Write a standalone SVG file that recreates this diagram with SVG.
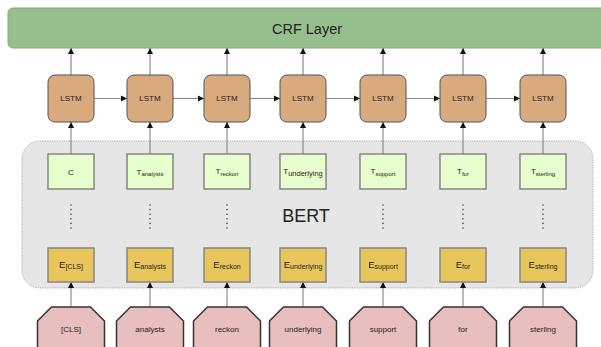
<svg xmlns="http://www.w3.org/2000/svg" width="601" height="347" viewBox="0 0 601 347">
<style>
text{font-family:"Liberation Sans",Arial,sans-serif;fill:#222;text-anchor:middle}
.lstm{fill:#d8aa7e;stroke:#555;stroke-width:1}
.t{fill:#e6ffcc;stroke:#858585;stroke-width:1.5}
.e{fill:#e9c65c;stroke:#858585;stroke-width:1.5}
.tok{fill:#e8bebe;stroke:#333;stroke-width:1.5}
.c{stroke:#8c8c8c;stroke-width:1.2;fill:none;marker-end:url(#ah)}
.dots{stroke:#444;stroke-width:1.6;stroke-linecap:round;stroke-dasharray:0 4.6}
.s{font-size:8px}
.sub{font-size:6px}
.es{font-size:9.5px}
.esub{font-size:7px}
</style>
<defs>
<marker id="ah" markerUnits="userSpaceOnUse" markerWidth="7" markerHeight="7" refX="6" refY="3.5" orient="auto">
<path d="M0,0.5 L6,3.5 L0,6.5 z" fill="#111"/>
</marker>
</defs>

<g id="crf">
<rect x="8" y="8" width="600" height="40" rx="5" fill="#97bf8d" stroke="#82a87a" stroke-width="1"/>
<text x="307" y="34" font-size="14.5">CRF Layer</text>
</g>

<g id="bert">
<rect x="22" y="141" width="571" height="147" rx="18" fill="#e6e6e6" stroke="#a8a8a8" stroke-width="1" stroke-dasharray="1.2 1.2"/>
<text x="306" y="222" font-size="18">BERT</text>
</g>

<g id="connectors">
<line class="c" x1="71" y1="75" x2="71" y2="48"/>
<line class="c" x1="150" y1="75" x2="150" y2="48"/>
<line class="c" x1="227" y1="75" x2="227" y2="48"/>
<line class="c" x1="303" y1="75" x2="303" y2="48"/>
<line class="c" x1="383" y1="75" x2="383" y2="48"/>
<line class="c" x1="463" y1="75" x2="463" y2="48"/>
<line class="c" x1="543" y1="75" x2="543" y2="48"/>

<line class="c" x1="94" y1="98.5" x2="127" y2="98.5"/>
<line class="c" x1="173" y1="98.5" x2="204" y2="98.5"/>
<line class="c" x1="250" y1="98.5" x2="280" y2="98.5"/>
<line class="c" x1="326" y1="98.5" x2="360" y2="98.5"/>
<line class="c" x1="406" y1="98.5" x2="440" y2="98.5"/>
<line class="c" x1="486" y1="98.5" x2="520" y2="98.5"/>

<line class="c" x1="71" y1="154" x2="71" y2="122"/>
<line class="c" x1="150" y1="154" x2="150" y2="122"/>
<line class="c" x1="227" y1="154" x2="227" y2="122"/>
<line class="c" x1="303" y1="154" x2="303" y2="122"/>
<line class="c" x1="383" y1="154" x2="383" y2="122"/>
<line class="c" x1="463" y1="154" x2="463" y2="122"/>
<line class="c" x1="543" y1="154" x2="543" y2="122"/>

<line class="c" x1="71" y1="307" x2="71" y2="282"/>
<line class="c" x1="150" y1="307" x2="150" y2="282"/>
<line class="c" x1="227" y1="307" x2="227" y2="282"/>
<line class="c" x1="303" y1="307" x2="303" y2="282"/>
<line class="c" x1="383" y1="307" x2="383" y2="282"/>
<line class="c" x1="463" y1="307" x2="463" y2="282"/>
<line class="c" x1="543" y1="307" x2="543" y2="282"/>
</g>

<g id="dots">
<line class="dots" x1="71" y1="205" x2="71" y2="229"/>
<line class="dots" x1="150" y1="205" x2="150" y2="229"/>
<line class="dots" x1="227" y1="205" x2="227" y2="229"/>
<line class="dots" x1="383" y1="205" x2="383" y2="229"/>
<line class="dots" x1="463" y1="205" x2="463" y2="229"/>
<line class="dots" x1="543" y1="205" x2="543" y2="229"/>
</g>

<g id="lstm1"><rect class="lstm" x="48" y="75" width="46" height="47" rx="7"/><text class="s" x="71" y="101">LSTM</text></g>
<g id="lstm2"><rect class="lstm" x="127" y="75" width="46" height="47" rx="7"/><text class="s" x="150" y="101">LSTM</text></g>
<g id="lstm3"><rect class="lstm" x="204" y="75" width="46" height="47" rx="7"/><text class="s" x="227" y="101">LSTM</text></g>
<g id="lstm4"><rect class="lstm" x="280" y="75" width="46" height="47" rx="7"/><text class="s" x="303" y="101">LSTM</text></g>
<g id="lstm5"><rect class="lstm" x="360" y="75" width="46" height="47" rx="7"/><text class="s" x="383" y="101">LSTM</text></g>
<g id="lstm6"><rect class="lstm" x="440" y="75" width="46" height="47" rx="7"/><text class="s" x="463" y="101">LSTM</text></g>
<g id="lstm7"><rect class="lstm" x="520" y="75" width="46" height="47" rx="7"/><text class="s" x="543" y="101">LSTM</text></g>

<g id="t1"><rect class="t" x="48" y="154" width="46" height="35"/><text class="s" x="71" y="175">C</text></g>
<g id="t2"><rect class="t" x="127" y="154" width="46" height="35"/><text class="s" x="150" y="175">T<tspan class="sub" dy="1">analysts</tspan></text></g>
<g id="t3"><rect class="t" x="204" y="154" width="46" height="35"/><text class="s" x="227" y="174">T<tspan class="sub" dy="1.5">reckon</tspan></text></g>
<g id="t4"><rect class="t" x="280" y="154" width="46" height="35"/><text class="s" x="303" y="174">T<tspan font-size="7.5" dy="2">underlying</tspan></text></g>
<g id="t5"><rect class="t" x="360" y="154" width="46" height="35"/><text class="s" x="383" y="174">T<tspan class="sub" dy="1.5">support</tspan></text></g>
<g id="t6"><rect class="t" x="440" y="154" width="46" height="35"/><text class="s" x="463" y="174">T<tspan class="sub" dy="1.5">for</tspan></text></g>
<g id="t7"><rect class="t" x="520" y="154" width="46" height="35"/><text class="s" x="543" y="174">T<tspan class="sub" dy="1.5">sterling</tspan></text></g>

<g id="e1"><rect class="e" x="48" y="248" width="46" height="34"/><text class="es" x="71" y="268">E<tspan class="esub" dy="0.5">[CLS]</tspan></text></g>
<g id="e2"><rect class="e" x="127" y="248" width="46" height="34"/><text class="es" x="150" y="268">E<tspan class="esub" dy="1">analysts</tspan></text></g>
<g id="e3"><rect class="e" x="204" y="248" width="46" height="34"/><text class="es" x="227" y="268">E<tspan class="esub" dy="1">reckon</tspan></text></g>
<g id="e4"><rect class="e" x="280" y="248" width="46" height="34"/><text class="es" x="303" y="268">E<tspan class="esub" dy="1">underlying</tspan></text></g>
<g id="e5"><rect class="e" x="360" y="248" width="46" height="34"/><text class="es" x="383" y="268">E<tspan class="esub" dy="1">support</tspan></text></g>
<g id="e6"><rect class="e" x="440" y="248" width="46" height="34"/><text class="es" x="463" y="268">E<tspan class="esub" dy="1">for</tspan></text></g>
<g id="e7"><rect class="e" x="520" y="248" width="46" height="34"/><text class="es" x="543" y="268">E<tspan class="esub" dy="1">sterling</tspan></text></g>

<g id="tok1"><path class="tok" d="M51.5,307 H90.5 L104.5,321 V362 H37.5 V321 Z"/><text class="s" x="71" y="332">[CLS]</text></g>
<g id="tok2"><path class="tok" d="M130.5,307 H169.5 L183.5,321 V362 H116.5 V321 Z"/><text class="s" x="150" y="332">analysts</text></g>
<g id="tok3"><path class="tok" d="M207.5,307 H246.5 L260.5,321 V362 H193.5 V321 Z"/><text class="s" x="227" y="332">reckon</text></g>
<g id="tok4"><path class="tok" d="M283.5,307 H322.5 L336.5,321 V362 H269.5 V321 Z"/><text class="s" x="303" y="332">underlying</text></g>
<g id="tok5"><path class="tok" d="M363.5,307 H402.5 L416.5,321 V362 H349.5 V321 Z"/><text class="s" x="383" y="332">support</text></g>
<g id="tok6"><path class="tok" d="M443.5,307 H482.5 L496.5,321 V362 H429.5 V321 Z"/><text class="s" x="463" y="332">for</text></g>
<g id="tok7"><path class="tok" d="M523.5,307 H562.5 L576.5,321 V362 H509.5 V321 Z"/><text class="s" x="543" y="332">sterling</text></g>
</svg>
